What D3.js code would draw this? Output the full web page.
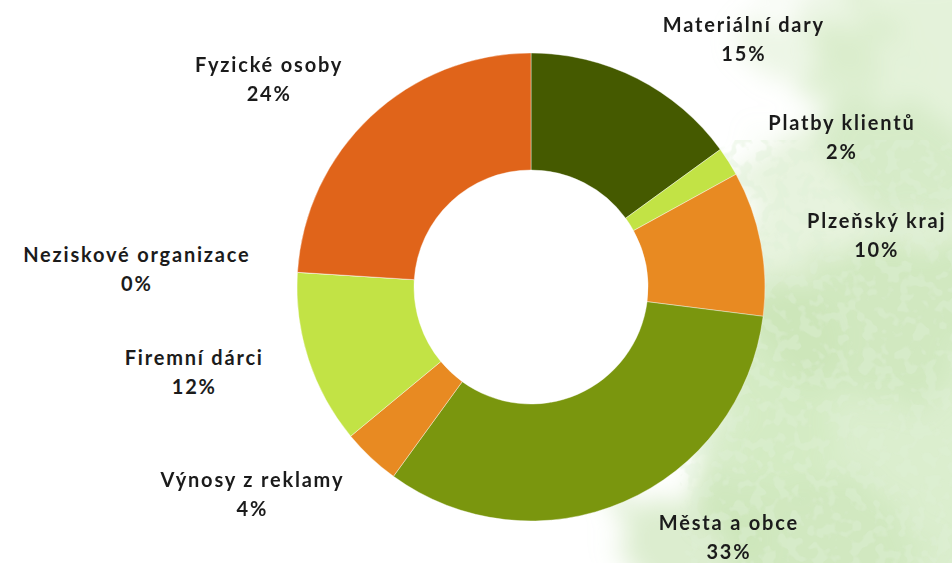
<!DOCTYPE html>
<html>
<head>
<meta charset="utf-8">
<script src="https://cdn.jsdelivr.net/npm/d3@7"></script>
<style>
  html, body { margin: 0; padding: 0; background: #fff; }
  svg { display: block; }
</style>
</head>
<body>
<div id="chart"></div>
<script>
var w = 952;
var h = 563;

// data
var categories = ["Materiální dary", "Platby klientů", "Plzeňský kraj", "Města a obce",
  "Výnosy z reklamy", "Firemní dárci", "Neziskové organizace", "Fyzické osoby"];
var shares = [15, 2, 10, 33, 4, 12, 0, 24];
var colors = ["#455a00", "#c2e345", "#e88a22", "#7a960e", "#e88a22", "#c2e345", "#455a00", "#e0641a"];

var cx = 531, cy = 287;
var outerR = 234, innerR = 117;
var labelRx = 281, labelRy = 245;
var clearance = 21;

var svg = d3.select("#chart").append("svg")
  .attr("width", w)
  .attr("height", h);

// watercolor wash on the right
var defs = svg.append("defs");
var f = defs.append("filter").attr("id", "wash")
  .attr("x", "-20%").attr("y", "-20%").attr("width", "140%").attr("height", "140%");
f.append("feTurbulence").attr("type", "fractalNoise").attr("baseFrequency", "0.03")
  .attr("numOctaves", 4).attr("seed", 7).attr("result", "noise");
f.append("feDisplacementMap").attr("in", "SourceGraphic").attr("in2", "noise")
  .attr("scale", 80).attr("result", "disp");
f.append("feGaussianBlur").attr("in", "disp").attr("stdDeviation", 12);

var f2 = defs.append("filter").attr("id", "speck")
  .attr("x", "0").attr("y", "0").attr("width", "100%").attr("height", "100%");
f2.append("feTurbulence").attr("type", "fractalNoise").attr("baseFrequency", "0.08")
  .attr("numOctaves", 2).attr("seed", 3).attr("result", "n");
f2.append("feColorMatrix").attr("in", "n").attr("type", "matrix")
  .attr("values", "0 0 0 0 0.74  0 0 0 0 0.87  0 0 0 0 0.68  0 0 0 9 -4.5").attr("result", "spots");
f2.append("feComposite").attr("in", "spots").attr("in2", "SourceGraphic").attr("operator", "in");

var wash = svg.append("g").attr("filter", "url(#wash)");
var blobs = [
  [905, 450, 210, 210, 0.6], [870, 250, 140, 150, 0.4], [920, 90, 110, 130, 0.45],
  [770, 540, 150, 70, 0.4], [690, 540, 80, 40, 0.3], [820, 40, 80, 50, 0.3],
  [780, 380, 60, 110, 0.3]
];
blobs.forEach(function (b) {
  wash.append("ellipse")
    .attr("cx", b[0]).attr("cy", b[1]).attr("rx", b[2]).attr("ry", b[3])
    .attr("fill", "#c3e2ad").attr("opacity", b[4]);
});
svg.append("rect")
  .attr("x", 680).attr("y", 140).attr("width", 272).attr("height", 423)
  .attr("fill", "#fff").attr("filter", "url(#speck)").attr("opacity", 0.4);

// donut
var pie = d3.pie().sort(null).value(function (d) { return d; });
var arcs = pie(shares);
var arc = d3.arc().innerRadius(innerR).outerRadius(outerR);

var g = svg.append("g").attr("transform", "translate(" + cx + "," + cy + ")");
g.selectAll("path")
  .data(arcs)
  .enter()
  .append("path")
  .attr("d", arc)
  .attr("fill", function (d, i) { return colors[i]; })
  .attr("stroke", "#fff")
  .attr("stroke-width", 0.4);

// labels
var fontSize = 20;
var lineH = 29;
var labels = g.selectAll("g.lbl")
  .data(arcs)
  .enter()
  .append("g")
  .attr("class", "lbl");

labels.append("text")
  .attr("class", "name")
  .attr("text-anchor", "middle")
  .attr("dy", "0.35em")
  .attr("y", -lineH / 2)
  .text(function (d, i) { return categories[i]; });
labels.append("text")
  .attr("text-anchor", "middle")
  .attr("dy", "0.35em")
  .attr("y", lineH / 2)
  .text(function (d) { return d.data + "%"; });

labels.selectAll("text")
  .attr("font-family", "Lato, 'Noto Sans', sans-serif")
  .attr("font-weight", 700)
  .attr("font-size", fontSize + "px")
  .attr("letter-spacing", "1.8px")
  .attr("fill", "#1b1b1b");

labels.attr("transform", function (d) {
  var bw = this.querySelector("text.name").getComputedTextLength();
  var bh = lineH * 2;
  var a = (d.startAngle + d.endAngle) / 2;
  var vx = Math.sin(a), vy = -Math.cos(a);
  var m = Math.max(Math.abs(vx), Math.abs(vy));
  var x = vx * labelRx + vx / m * bw / 2;
  var y = vy * labelRy + vy / m * bh / 2;
  // keep inside top / bottom edges
  y = Math.max(y, 9 - cy + bh / 2);
  y = Math.min(y, 566 - cy - bh / 2);
  // push sideways until the nearest box corner clears the ring
  var side = vx >= 0 ? 1 : -1;
  for (var n = 0; n < 300; n++) {
    var nx = side > 0 ? x - bw / 2 : x + bw / 2;
    var ny = Math.abs(y) > bh / 2 ? (y > 0 ? y - bh / 2 : y + bh / 2) : 0;
    if (Math.sqrt(nx * nx + ny * ny) >= outerR + clearance) break;
    x += side;
  }
  return "translate(" + x + "," + y + ")";
});
</script>
</body>
</html>
